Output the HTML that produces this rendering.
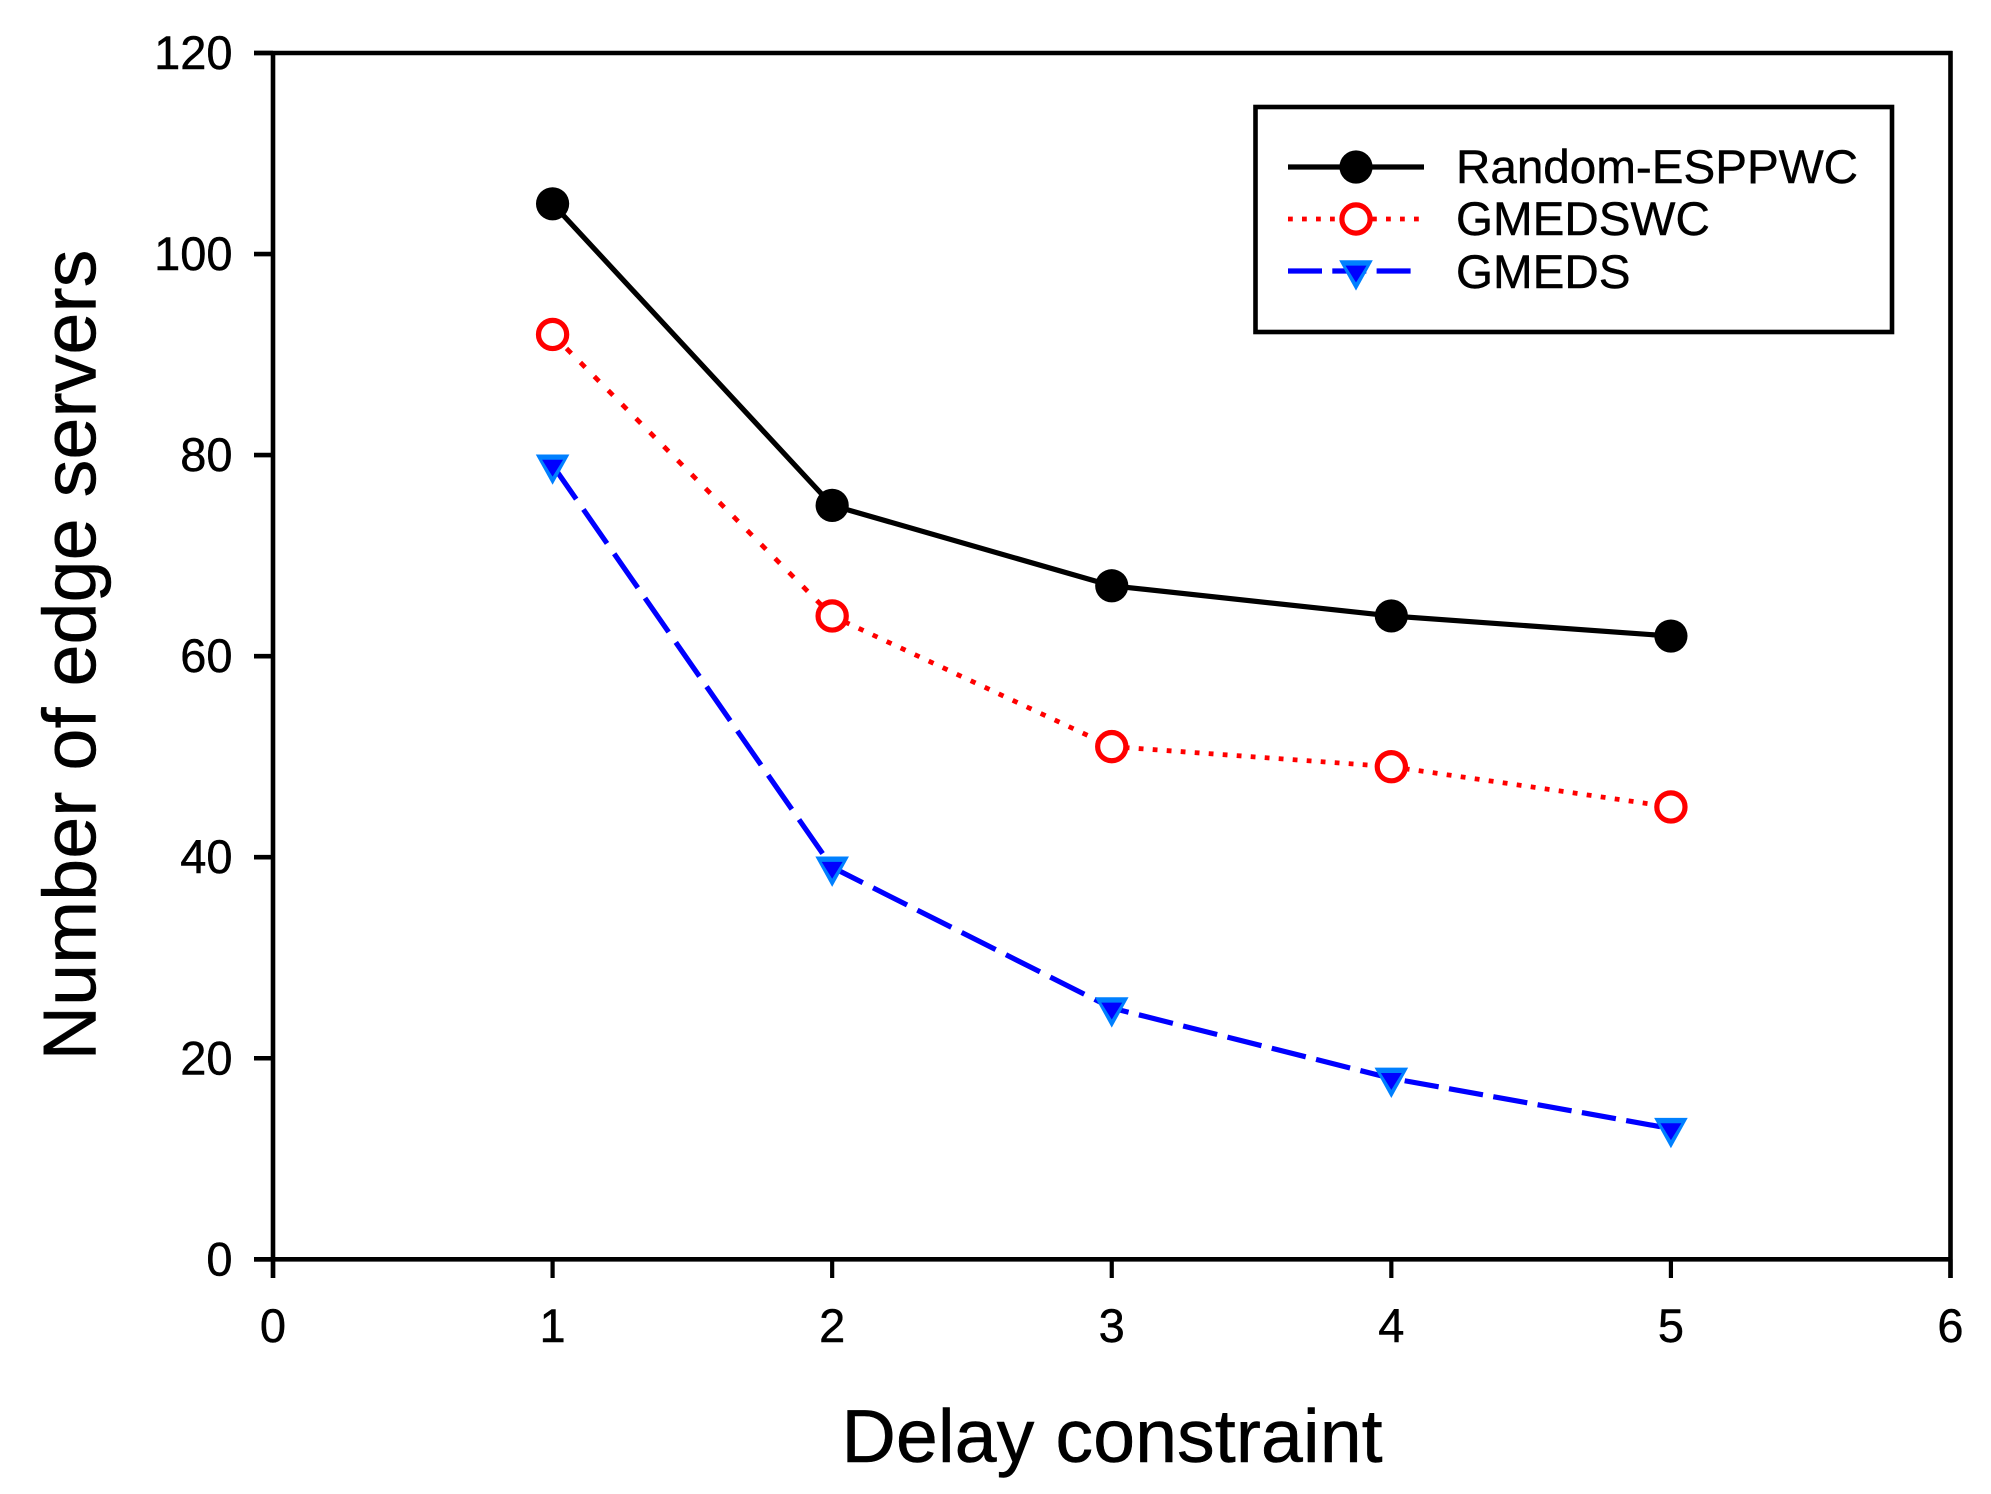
<!DOCTYPE html>
<html lang="en">
<head>
<meta charset="utf-8">
<title>Number of edge servers vs delay constraint</title>
<style>
html,body{margin:0;padding:0;background:#fff;width:1991px;height:1494px;overflow:hidden}
svg{display:block}
text{font-family:"Liberation Sans",Arial,sans-serif;fill:#000;stroke:#000;stroke-width:.45px}
</style>
</head>
<body>
<svg id="chart" xmlns="http://www.w3.org/2000/svg" width="1991" height="1494" viewBox="0 0 1991 1494"></svg>
<script>
const categories = [1, 2, 3, 4, 5];
const randomEsppwc = [105, 75, 67, 64, 62];
const gmedswc = [92, 64, 51, 49, 45];
const gmeds = [79, 39, 25, 18, 13];
const xTickLabels = [0, 1, 2, 3, 4, 5, 6];
const yTickLabels = [0, 20, 40, 60, 80, 100, 120];
const legendLabels = ["Random-ESPPWC", "GMEDSWC", "GMEDS"];

const NS = "http://www.w3.org/2000/svg";
const svg = document.getElementById("chart");
const plot = {left: 273, right: 1950.5, top: 53, bottom: 1259.3};
const xMax = 6, yMax = 120;
const xScale = v => plot.left + (v / xMax) * (plot.right - plot.left);
const yScale = v => plot.bottom - (v / yMax) * (plot.bottom - plot.top);

function make(tag, attrs, parent) {
  const el = document.createElementNS(NS, tag);
  for (const k in attrs) el.setAttribute(k, attrs[k]);
  (parent || svg).appendChild(el);
  return el;
}
function rule(x1, y1, x2, y2, parent, width) {
  return make("line", {x1, y1, x2, y2, stroke: "#000", "stroke-width": width || 4.6}, parent);
}

/* axes */
const axisGroup = make("g", {});



const frameTop = rule(254, plot.top, plot.right + 2, plot.top, axisGroup);


const frameBottom = rule(254, plot.bottom, plot.right + 2, plot.bottom, axisGroup);


const frameLeft = rule(plot.left, plot.top - 2, plot.left, 1278, axisGroup);


const frameRight = rule(plot.right, plot.top - 2, plot.right, 1278, axisGroup);



xTickLabels.forEach(v => {
  const x = xScale(v);
  const tick = rule(x, plot.bottom, x, 1278, axisGroup, 4.2);
  
  
  const label = make("text", {x: x, y: 1342, "text-anchor": "middle", "font-size": 47}, axisGroup);
  label.textContent = v;
  
  
});
yTickLabels.forEach(v => {
  const y = yScale(v);
  const tick = rule(254, y, plot.left, y, axisGroup, 4.6);
  
  
  const label = make("text", {x: 232.5, y: y + 16, "text-anchor": "end", "font-size": 47}, axisGroup);
  label.textContent = v;
  
  
});

const xTitle = make("text", {x: 1112, y: 1462, "text-anchor": "middle", "font-size": 75.5});
xTitle.textContent = "Delay constraint";



const yTitle = make("text", {x: 0, y: 0, "text-anchor": "middle", "font-size": 75.6, transform: "translate(95.5 655) rotate(-90)"});
yTitle.textContent = "Number of edge servers";



/* Dash patterns in the source are counted along the major pixel axis,
   so scale them per segment and carry the phase across segments. */
function patternedLine(points, on, off, color, width, parent) {
  const period = on + off;
  let phase = 0;
  for (let i = 0; i < points.length - 1; i++) {
    const [x1, y1] = points[i], [x2, y2] = points[i + 1];
    const dx = Math.abs(x2 - x1), dy = Math.abs(y2 - y1);
    const major = Math.max(dx, dy);
    const s = Math.hypot(dx, dy) / major;
    make("line", {
      x1, y1, x2, y2, stroke: color, "stroke-width": width,
      "stroke-dasharray": (on * s) + " " + (off * s),
      "stroke-dashoffset": phase * s
    }, parent);
    phase = (phase + major) % period;
  }
}

/* markers */
function circleMarker(x, y, parent) {
  return make("circle", {cx: x, cy: y, r: 16.6, fill: "#000"}, parent);
}
function ringMarker(x, y, parent) {
  return make("circle", {cx: x, cy: y, r: 14.1, fill: "#fff", stroke: "#ff0000", "stroke-width": 5.2}, parent);
}
function triangleMarker(x, y, parent) {
  const g = make("g", {}, parent);
  make("polygon", {points: [x - 16.8, y - 10.7, x + 16.8, y - 10.7, x, y + 19.6].join(" "), fill: "#0080ff"}, g);
  make("polygon", {points: [x - 10.5, y - 5.4, x + 10.5, y - 5.4, x, y + 11.5].join(" "), fill: "#0000ff"}, g);
  return g;
}

/* series */
function toPoints(values) {
  return values.map((v, i) => [xScale(categories[i]), yScale(v)]);
}

const seriesBlack = make("g", {});


const blackPts = toPoints(randomEsppwc);
make("polyline", {points: blackPts.map(p => p.join(",")).join(" "), fill: "none", stroke: "#000", "stroke-width": 5.2, "stroke-linejoin": "round"}, seriesBlack);
blackPts.forEach(p => {
  const m = circleMarker(p[0], p[1], seriesBlack);
  
  
});

const seriesRed = make("g", {});


const redPts = toPoints(gmedswc);
patternedLine(redPts, 4.8, 9.2, "#ff0000", 4.8, seriesRed);
redPts.forEach(p => {
  const m = ringMarker(p[0], p[1], seriesRed);
  
  
});

const seriesBlue = make("g", {});


const bluePts = toPoints(gmeds);
patternedLine(bluePts, 34, 10.3, "#0000ff", 5.2, seriesBlue);
bluePts.forEach(p => {
  const m = triangleMarker(p[0], p[1], seriesBlue);
  
  
});

/* legend */
const legend = make("g", {});


const legendBox = make("rect", {x: 1255.5, y: 107, width: 636.5, height: 225, fill: "#fff", stroke: "#000", "stroke-width": 4.6}, legend);



const legendRowY = [167, 219, 271];
const legendBaseY = [183, 235, 288];
legendLabels.forEach((name, i) => {
  const row = make("g", {}, legend);
  
  
  const y = legendRowY[i];
  if (i === 0) {
    make("line", {x1: 1288, y1: y, x2: 1424, y2: y, stroke: "#000", "stroke-width": 5.2}, row);
    circleMarker(1356, y, row);
  } else if (i === 1) {
    patternedLine([[1288, y], [1424, y]], 4.8, 9.2, "#ff0000", 4.8, row);
    ringMarker(1356, y, row);
  } else {
    patternedLine([[1288, y], [1411, y]], 34, 10.3, "#0000ff", 5.2, row);
    triangleMarker(1356, y, row);
  }
  const label = make("text", {x: 1456, y: legendBaseY[i], "font-size": 47.6}, row);
  label.textContent = name;
  
  
});
</script>
</body>
</html>
